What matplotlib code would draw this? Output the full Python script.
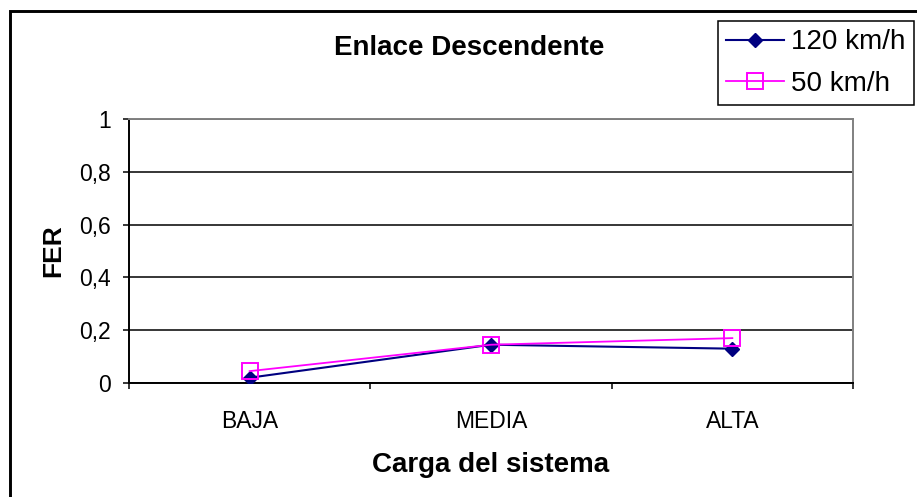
# Grafica FER vs carga del sistema - enlace descendente
import matplotlib
matplotlib.use('Agg')
import matplotlib.pyplot as plt
from matplotlib.patches import Rectangle

plt.rcParams['font.family'] = ['Liberation Sans', 'DejaVu Sans']

# datos
categorias = ['BAJA', 'MEDIA', 'ALTA']
fer_120 = [0.02, 0.145, 0.13]
fer_50 = [0.045, 0.145, 0.17]
yticks = [0, 0.2, 0.4, 0.6, 0.8, 1]
ytick_labels = ['0', '0,2', '0,4', '0,6', '0,8', '1']

W, H = 917, 497
fig = plt.figure(figsize=(W / 100, H / 100), dpi=100)
ax = fig.add_axes([129 / W, 1 - 383 / H, (853 - 129) / W, (383 - 119) / H])

x = list(range(len(categorias)))
ax.plot(x, fer_120, color='#000080', lw=1.5, marker='D', markersize=7,
        markerfacecolor='#000080', markeredgecolor='#000080', label='120 km/h', zorder=3)
ax.plot(x, fer_50, color='#FF00FF', lw=1.3, marker='s', markersize=11,
        markerfacecolor='none', markeredgecolor='#FF00FF', markeredgewidth=1.4,
        label='50 km/h', zorder=4)

ax.set_xlim(-0.5, len(categorias) - 0.5)
ax.set_ylim(0, 1)
ax.set_yticks(yticks)
ax.set_yticklabels(ytick_labels, fontsize=16.5)
ax.set_xticks(x)
ax.set_xticklabels(categorias, fontsize=16.5)
ax.set_xticks([i - 0.5 for i in range(len(categorias) + 1)], minor=True)
ax.tick_params(axis='x', which='major', length=0, pad=19.4)
ax.tick_params(axis='x', which='minor', length=4.3, width=1.1, direction='out')
ax.tick_params(axis='y', length=4.3, width=1.1, direction='out', pad=8.6)

ax.grid(axis='y', color='black', lw=1.1)
ax.set_axisbelow(True)
for s in ['left', 'bottom']:
    ax.spines[s].set_color('black')
    ax.spines[s].set_linewidth(1.4)
for s in ['top', 'right']:
    ax.spines[s].set_color('#808080')
    ax.spines[s].set_linewidth(1.4)

leg = ax.legend(loc='upper right', bbox_to_anchor=(914 / W, 1 - 21 / H),
                bbox_transform=fig.transFigure, borderaxespad=0, fancybox=False,
                edgecolor='black', framealpha=1, fontsize=20, handlelength=2.1,
                handletextpad=0.25, labelspacing=0.55, borderpad=0.3)
leg.get_frame().set_linewidth(1.1)

fig.text(469 / W, 1 - 55 / H, 'Enlace Descendente', ha='center', va='baseline',
         fontsize=20, fontweight='bold')
fig.text(491 / W, 1 - 471.7 / H, 'Carga del sistema', ha='center', va='baseline',
         fontsize=20, fontweight='bold')
fig.text(60 / W, 1 - 250.5 / H, 'FER', rotation=90, rotation_mode='anchor',
         ha='center', va='baseline', fontsize=19, fontweight='bold')

# borde del area del grafico
fig.add_artist(Rectangle((9.5 / W, -0.1), 1.2, 1.1 - 11.3 / H, transform=fig.transFigure,
                         fill=False, edgecolor='black', lw=2.1, clip_on=False))

fig.savefig('out.png', dpi=100)
